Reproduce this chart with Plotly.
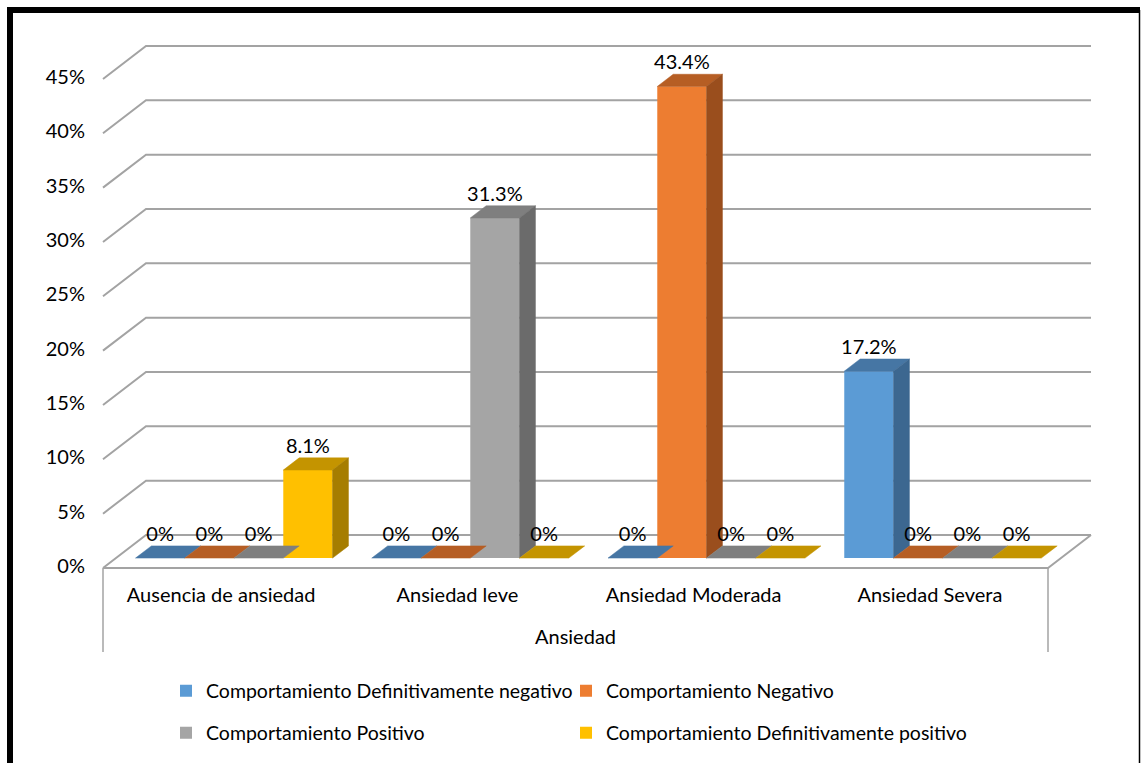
import plotly.graph_objects as go

# ---------------- data ----------------
categories = ["Ausencia de ansiedad", "Ansiedad leve", "Ansiedad Moderada", "Ansiedad Severa"]
series_names = [
    "Comportamiento Definitivamente negativo",
    "Comportamiento Negativo",
    "Comportamiento Positivo",
    "Comportamiento Definitivamente positivo",
]
def_negativo = [0, 0, 0, 17.2]
negativo = [0, 0, 43.4, 0]
positivo = [0, 31.3, 0, 0]
def_positivo = [8.1, 0, 0, 0]
y_ticks = [0, 5, 10, 15, 20, 25, 30, 35, 40, 45]
y_tick_labels = [f"{t}%" for t in y_ticks]
axis_title = "Ansiedad"

series_values = [def_negativo, negativo, positivo, def_positivo]

# ---------------- style ----------------
FONT = "Lato"
FS = 20
LEG_FS = 19.5
front_colors = ["#5B9BD5", "#ED7D31", "#A5A5A5", "#FFC000"]
top_colors = ["#4676A4", "#B65E24", "#7F7F7F", "#C49400"]
side_colors = ["#3C6790", "#9A4E1D", "#6B6B6B", "#A67D00"]
GRID = "#A3A3A3"

W, H = 1142, 763
PX_X = 236.25      # px per category unit
PX_Y = 10.867      # px per percent
X0_PX = 103        # px of x=-0.5 (front-left edge)
Y0_PX = 568        # px of y=0 (front floor edge)
x_range = [-0.5 - X0_PX / PX_X, -0.5 + (W - X0_PX) / PX_X]
y_range = [-(H - Y0_PX) / PX_Y, Y0_PX / PX_Y]

DX = 43 / PX_X     # full floor depth (x shift)
DY = 33 / PX_Y     # full floor depth (y shift)
F1, F2 = 0.30, 0.67  # bar front / back depth fractions
GROUP_W = 0.834
BW = GROUP_W / 4
base = F1 * DY
ddx = (F2 - F1) * DX
ddy = (F2 - F1) * DY

fig = go.Figure()

x_left = -0.5
x_right = len(categories) - 0.5

# gridlines (back wall + left wall), drawn below traces
shapes = []
for t in y_ticks:
    path = (f"M {x_left},{t} L {x_left + DX},{t + DY} L {x_right + DX},{t + DY}")
    shapes.append(dict(type="path", path=path, xref="x", yref="y",
                       line=dict(color=GRID, width=2), layer="below"))
# floor front + right edge
shapes.append(dict(type="path",
                   path=f"M {x_left},0 L {x_right},0 L {x_right + DX},{DY}",
                   xref="x", yref="y", line=dict(color=GRID, width=2), layer="below"))
# category axis box verticals
cat_box_bottom = -(652 - Y0_PX) / PX_Y
for xv in (x_left, x_right):
    shapes.append(dict(type="line", x0=xv, x1=xv, y0=0, y1=cat_box_bottom,
                       xref="x", yref="y", line=dict(color=GRID, width=1.5), layer="below"))

# chart border
shapes.append(dict(type="line", xref="paper", yref="paper", x0=10 / W, x1=10 / W,
                   y0=1 - 7 / H, y1=-0.02, line=dict(color="black", width=6)))
shapes.append(dict(type="line", xref="paper", yref="paper", x0=7 / W, x1=1140 / W,
                   y0=1 - 10 / H, y1=1 - 10 / H, line=dict(color="black", width=6)))
shapes.append(dict(type="line", xref="paper", yref="paper", x0=1139.5 / W, x1=1139.5 / W,
                   y0=1 - 10 / H, y1=-0.02, line=dict(color="black", width=1.5)))

# one legend per entry (2 x 2 arrangement)
legend_names = ["legend", "legend2", "legend3", "legend4"]
legend_pos = [(166, 691), (566, 691), (166, 733), (566, 733)]

# front faces as bars
for k, (name, vals) in enumerate(zip(series_names, series_values)):
    offset = -GROUP_W / 2 + k * BW + F1 * DX
    fig.add_trace(go.Bar(
        x=list(range(len(categories))), y=vals, base=base, offset=offset, width=BW,
        name=name, marker=dict(color=front_colors[k], line=dict(width=0)),
        legend=legend_names[k], hoverinfo="skip",
    ))

# top and side faces
for k, vals in enumerate(series_values):
    offset = -GROUP_W / 2 + k * BW + F1 * DX
    tx, ty, sx, sy = [], [], [], []
    for i, v in enumerate(vals):
        xl = i + offset
        xr = xl + BW
        top = v + base
        tx += [xl, xr, xr + ddx, xl + ddx, xl, None]
        ty += [top, top, top + ddy, top + ddy, top, None]
        if v > 0:
            sx += [xr, xr, xr + ddx, xr + ddx, xr, None]
            sy += [base, top, top + ddy, base + ddy, base, None]
    fig.add_trace(go.Scatter(x=tx, y=ty, mode="lines", fill="toself",
                             fillcolor=top_colors[k], line=dict(color=top_colors[k], width=0.5),
                             showlegend=False, hoverinfo="skip"))
    if sx:
        fig.add_trace(go.Scatter(x=sx, y=sy, mode="lines", fill="toself",
                                 fillcolor=side_colors[k], line=dict(color=side_colors[k], width=0.5),
                                 showlegend=False, hoverinfo="skip"))

# value labels
label_lift = 22 / PX_Y
for k, vals in enumerate(series_values):
    offset = -GROUP_W / 2 + k * BW + F1 * DX
    fig.add_trace(go.Scatter(
        x=[i + offset + BW / 2 for i in range(len(vals))],
        y=[v + base + label_lift for v in vals],
        text=[f"{v:g}%" for v in vals], mode="text",
        textposition="middle center",
        textfont=dict(family=FONT, size=FS, color="black"),
        showlegend=False, hoverinfo="skip"))

# y tick labels
fig.add_trace(go.Scatter(
    x=[x_left - 18 / PX_X] * len(y_ticks), y=y_ticks, text=y_tick_labels,
    mode="text", textposition="middle left",
    textfont=dict(family=FONT, size=FS, color="black"),
    showlegend=False, hoverinfo="skip"))

# category labels
fig.add_trace(go.Scatter(
    x=list(range(len(categories))), y=[-(597 - Y0_PX) / PX_Y] * len(categories),
    text=categories, mode="text", textposition="middle center",
    textfont=dict(family=FONT, size=FS, color="black"),
    showlegend=False, hoverinfo="skip"))

fig.add_annotation(x=(x_left + x_right) / 2, y=-(636 - Y0_PX) / PX_Y, text=axis_title,
                   showarrow=False, xref="x", yref="y",
                   font=dict(family=FONT, size=FS, color="black"))

legend_common = dict(orientation="h", xanchor="left", yanchor="middle",
                     font=dict(family=FONT, size=LEG_FS, color="black"),
                     bgcolor="rgba(0,0,0,0)",
                     itemclick=False, itemdoubleclick=False)
legend_layout = {
    ln: dict(x=px / W, y=1 - py / H, **legend_common)
    for ln, (px, py) in zip(legend_names, legend_pos)
}

fig.update_layout(
    width=W, height=H, margin=dict(l=0, r=0, t=0, b=0),
    paper_bgcolor="white", plot_bgcolor="white",
    barmode="overlay",
    xaxis=dict(range=x_range, visible=False, fixedrange=True),
    yaxis=dict(range=y_range, visible=False, fixedrange=True),
    shapes=shapes,
    **legend_layout,
)

fig.write_html("out.html", config={"displayModeBar": False},
               post_script="document.body.style.margin='0px';")
